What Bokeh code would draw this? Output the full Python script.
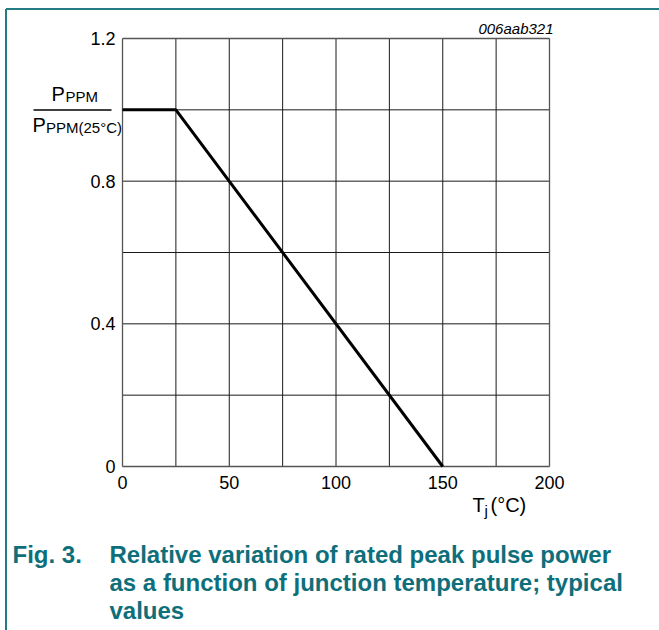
from bokeh.plotting import figure
from bokeh.models import Range1d, Label, ColumnDataSource
from bokeh.core.properties import value
from bokeh.embed import file_html
from bokeh.resources import INLINE

# ---- data ----
temp_c = [0, 25, 150]
ppm_ratio = [1.0, 1.0, 0.0]
x_major = [0, 50, 100, 150, 200]
x_minor = [25, 75, 125, 175]
x_tick_labels = ["0", "50", "100", "150", "200"]
y_major = [0, 0.4, 0.8, 1.2]
y_minor = [0.2, 0.6, 1.0]
y_tick_labels = ["0", "0.4", "0.8", "1.2"]
fig_code = "006aab321"
caption_num = "Fig. 3."
caption_lines = ["Relative variation of rated peak pulse power",
                 "as a function of junction temperature; typical",
                 "values"]

W, H = 659, 630
# chart area in picture pixels
FL, FR, FT, FB = 122, 549, 38, 466
X0, X1, Y0, Y1 = 0, 200, 0, 1.2

def px2x(px):
    return X0 + (px - FL) * (X1 - X0) / (FR - FL)

def px2y(py):
    return Y0 + (FB - py) * (Y1 - Y0) / (FB - FT)

FONT = "Liberation Sans"
TEAL = "#0e6f7b"
BORDER = "#237c84"

p = figure(width=W, height=H, output_backend="svg", toolbar_location=None,
           x_range=Range1d(px2x(0), px2x(W)), y_range=Range1d(px2y(H), px2y(0)),
           min_border=0, min_border_left=0, min_border_right=0,
           min_border_top=0, min_border_bottom=0)
p.axis.visible = False
p.grid.visible = False
p.outline_line_color = None
p.background_fill_color = "white"
p.border_fill_color = "white"

# grid (inner lines)
inner_x = x_major[1:-1] + x_minor
inner_y = y_major[1:-1] + y_minor
p.segment(x0=inner_x, y0=[Y0] * len(inner_x), x1=inner_x, y1=[Y1] * len(inner_x),
          line_color="#1a1a1a", line_width=1)
p.segment(x0=[X0] * len(inner_y), y0=inner_y, x1=[X1] * len(inner_y), y1=inner_y,
          line_color="#1a1a1a", line_width=1)
# chart frame
p.segment(x0=[X0, X1, X0, X0], y0=[Y0, Y0, Y0, Y1],
          x1=[X0, X1, X1, X1], y1=[Y1, Y1, Y0, Y1],
          line_color="#555555", line_width=1.3)

# data line
src = ColumnDataSource(dict(x=temp_c, y=ppm_ratio))
p.line("x", "y", source=src, line_color="black", line_width=3)

# tick labels
p.text(x=x_major, y=[Y0] * len(x_major), text=x_tick_labels,
       text_font=value(FONT), text_font_size="18px", text_align="center",
       text_baseline="top", y_offset=9, text_color="black")
p.text(x=[X0] * len(y_major), y=y_major, text=y_tick_labels,
       text_font=value(FONT), text_font_size="18px", text_align="right",
       text_baseline="middle", x_offset=-7, text_color="black")

def lab(text, px, base_py, size, align="left", style="normal", color="black"):
    # base_py is the text baseline in picture pixels; place by the middle
    mid = base_py - 0.35 * size
    p.add_layout(Label(x=px2x(px), y=px2y(mid), text=text, text_font=FONT,
                       text_font_size=f"{size}px", text_align=align,
                       text_baseline="middle", text_font_style=style,
                       text_color=color))

# figure code
lab(fig_code, 553, 33, 15, align="right", style="italic")

# y axis label as a fraction
lab("P", 51, 100, 20)
lab("PPM", 65, 101, 15)
p.segment(x0=[px2x(33)], y0=[px2y(109.5)], x1=[px2x(111)], y1=[px2y(109.5)],
          line_color="black", line_width=1.5)
lab("P", 32, 131, 20)
lab("PPM(25°C)", 45.5, 132, 15)

# x axis label
lab("T", 472, 511, 20)
lab("j", 484, 515, 15)
lab("(°C)", 490, 511, 20)

# caption
lab(caption_num, 12, 562, 24, style="bold", color=TEAL)
for i, line in enumerate(caption_lines):
    lab(line, 109, 562 + 28 * i, 24, style="bold", color=TEAL)

# page border lines
p.segment(x0=[px2x(5.5), px2x(5.5)], y0=[px2y(8.5), px2y(8.5)],
          x1=[px2x(5.5), px2x(W + 5)], y1=[px2y(H + 5), px2y(8.5)],
          line_color=BORDER, line_width=2)

open("out.html", "w").write(file_html(p, INLINE))
